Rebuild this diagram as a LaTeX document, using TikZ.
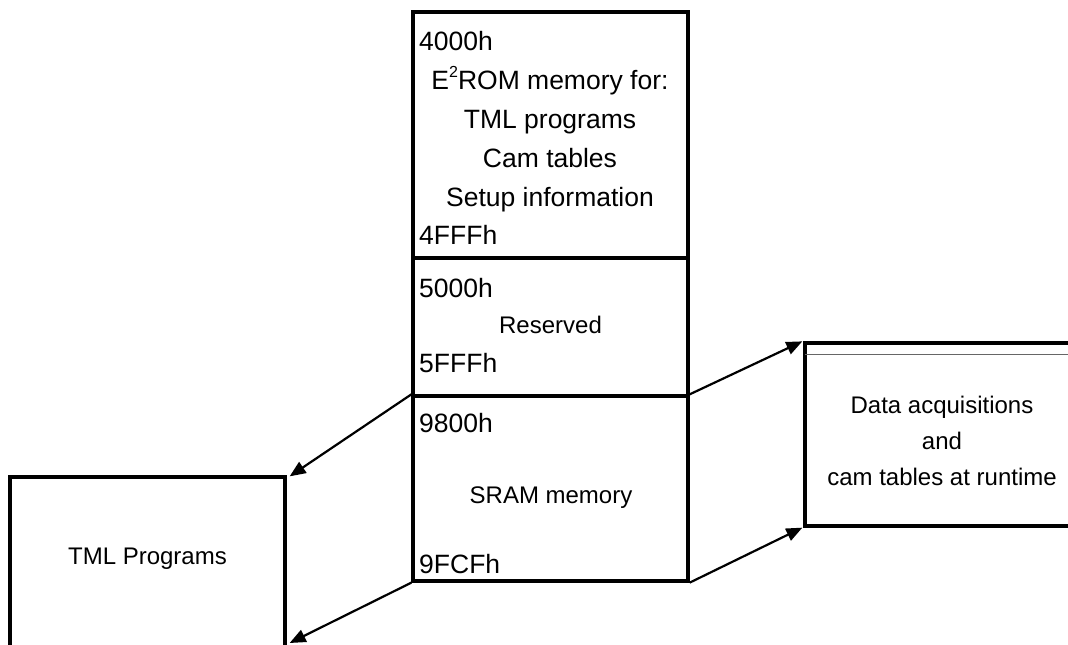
\documentclass[tikz,border=0pt]{standalone}
\usepackage{fontspec}
\setmainfont{Liberation Sans}
\usetikzlibrary{arrows.meta}
\begin{document}
\begin{tikzpicture}[x=1pt,y=-1pt,
  membox/.style={draw=black,line width=3.3pt,inner sep=0pt,minimum width=275pt},
  big/.style={inner sep=0pt,font=\fontsize{26.5}{30}\selectfont},
  small/.style={inner sep=0pt,font=\fontsize{24}{28}\selectfont},
  arr/.style={line width=2.2pt,-{Triangle[length=16pt,width=13pt]}}]
\path[use as bounding box,clip] (0,0) rectangle (1068,645);
\fill[white] (0,0) rectangle (1068,645);
% boxes
\node[membox,minimum height=246pt] (eerom) at (550.5,135) {};
\node[membox,minimum height=138pt] (res) at (550.5,327) {};
\node[membox,minimum height=185pt] (sram) at (550.5,488.5) {};
\node[membox,minimum height=200pt] (tml) at (147.5,577) {};
\node[membox,minimum height=183pt] (daq) at (942.5,434.5) {};
\draw[black!60,line width=1.2pt] ([yshift=-13pt,xshift=1.5pt]daq.north west) -- ([yshift=-13pt]daq.north east);
% top box texts
\node[big,anchor=base west] (a1) at (419,50) {4000h};
\node[big,anchor=base] (t1) at (550,89) {E\raisebox{0.42em}{\fontsize{16}{16}\selectfont 2}ROM memory for:};
\node[big,anchor=base] (t2) at (550,128) {TML programs};
\node[big,anchor=base] (t3) at (550,167) {Cam tables};
\node[big,anchor=base] (t4) at (550,206) {Setup information};
\node[big,anchor=base west] (a2) at (419,244) {4FFFh};
% reserved
\node[big,anchor=base west] (a3) at (419,297) {5000h};
\node[small,anchor=base] (t5) at (550.5,333) {Reserved};
\node[big,anchor=base west] (a4) at (419,372) {5FFFh};
% sram
\node[big,anchor=base west] (a5) at (419,432) {9800h};
\node[small,anchor=base] (t6) at (551,503) {SRAM memory};
\node[big,anchor=base west] (a6) at (419,573) {9FCFh};
% side boxes
\node[small,anchor=base] (t7) at (147.5,564) {TML Programs};
\node[small,anchor=base] (t8) at (942,413) {Data acquisitions};
\node[small,anchor=base] (t9) at (942,449) {and};
\node[small,anchor=base] (t10) at (942,485) {cam tables at runtime};
% arrows
\draw[arr] (sram.north west) -- ([xshift=3pt,yshift=-1pt]tml.north east);
\draw[arr] (sram.south west) -- ([xshift=3pt]tml.east |- 0,643);
\draw[arr] (sram.north east) -- ([xshift=-1pt]daq.north west);
\draw[arr] (sram.south east) -- ([xshift=-1pt]daq.south west);
\end{tikzpicture}
\end{document}
